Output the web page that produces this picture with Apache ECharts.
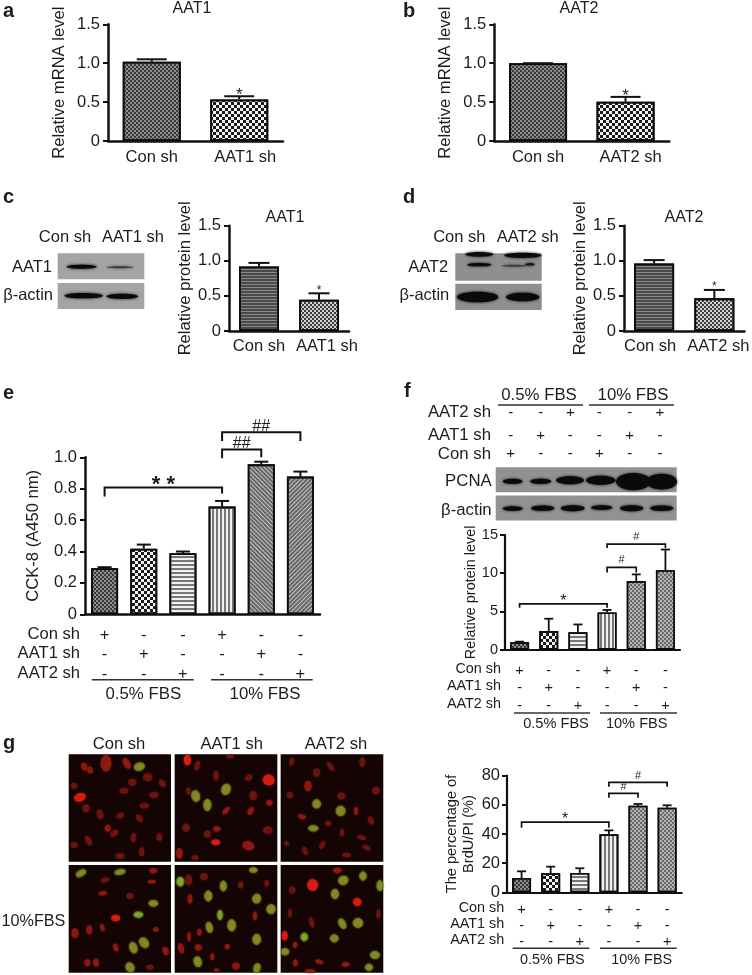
<!DOCTYPE html>
<html><head><meta charset="utf-8">
<style>html,body{margin:0;padding:0;background:#fff}#c{width:752px;height:975px;filter:blur(0.45px)}</style>
<script src="https://cdn.jsdelivr.net/npm/echarts@6/dist/echarts.min.js"></script>
</head><body><div id="c"></div>
<script>
// ---------- chart values ----------
const aCats = ['Con sh', 'AAT1 sh'];
const aValues = [1.02, 0.535];
const aErrors = [1.05, 0.575];
const aMarks = ['', '*'];

const bCats = ['Con sh', 'AAT2 sh'];
const bValues = [1.0, 0.505];
const bErrors = [1.0, 0.567];
const bMarks = ['', '*'];

const cCats = ['Con sh', 'AAT1 sh'];
const cValues = [0.92, 0.446];
const cErrors = [0.97, 0.537];
const cMarks = ['', '*'];

const dCats = ['Con sh', 'AAT2 sh'];
const dValues = [0.96, 0.465];
const dErrors = [1.01, 0.585];
const dMarks = ['', '*'];

const conSh = ['+', '-', '-', '+', '-', '-'];
const aat1Sh = ['-', '+', '-', '-', '+', '-'];
const aat2Sh = ['-', '-', '+', '-', '-', '+'];
const groupCats = ['a', 'b', 'c', 'd', 'e', 'f'];

const eValues = [0.293, 0.418, 0.389, 0.686, 0.955, 0.877];
const eErrors = [0.30, 0.444, 0.40, 0.722, 0.972, 0.909];
const eBrackets = [[0, 3, 0.807, 0.75, 0.77, '* *'], [3, 4, 1.05, 0.994, 1.0, '##'], [3, 5, 1.16, 1.104, 1.104, '##']];

const fValues = [0.96, 2.44, 2.27, 4.88, 8.98, 10.4];
const fErrors = [1.05, 4.05, 3.3, 5.2, 9.85, 13.1];
const fBrackets = [[0, 3, 6.0, 5.5, 5.5, '*'], [3, 4, 10.77, 10.1, 10.1, '#'], [3, 5, 13.8, 13.3, 13.3, '#']];

const gValues = [9.8, 13, 13.3, 39.8, 59.4, 58];
const gErrors = [14.4, 17.6, 16.5, 42.5, 60.6, 59.7];
const gBrackets = [[0, 3, 48.2, 44.3, 44.3, '*'], [3, 4, 67.9, 64.9, 64.9, '#'], [3, 5, 75.4, 72.5, 72.5, '#']];

// ---------- blot bands: [x, y, rx, ry, strength] in each blot's own field units ----------
const blotCBands = [[245, 245, 45, 6, 1], [360, 247, 40, 3, .55], [251, 332, 58, 8, 1], [367, 334, 48, 8, 1]];
const blotDBands = [[310, 208, 42, 7, 1], [440, 211, 56, 8, 1], [310, 239, 36, 5, 1], [415, 242, 38, 3, .5], [462, 238, 15, 4, .8], [305, 336, 62, 16, 1], [440, 336, 50, 13, 1]];
const blotFBands = [[308, 319, 30, 8, 1], [392, 319, 32, 8, 1], [480, 316, 42, 12, 1], [572, 316, 44, 14, 1], [670, 320, 52, 26, 1], [755, 320, 46, 24, 1],
  [308, 401, 30, 7, 1], [398, 400, 35, 8, 1], [488, 400, 36, 9, 1], [575, 398, 32, 7, 1], [665, 400, 35, 9, 1], [755, 400, 35, 8, 1]];

// ---------- micrograph nuclei: [x, y, rx, ry, angle, kind] ----------
const nucleiCon = [[318,115,18,28,0,'m'],[253,125,10,14,20,'m'],[270,135,10,12,20,'m'],[380,115,11,20,30,'m'],[418,125,17,12,15,'y'],[443,157,16,14,0,'r'],[397,172,14,12,0,'r'],[487,175,10,15,30,'r'],[222,182,11,10,0,'r'],[372,197,15,10,0,'r'],[240,217,20,14,20,'R'],[462,210,16,10,0,'r'],[258,250,12,14,0,'r'],[433,242,16,9,0,'r'],[300,268,11,17,20,'r'],[360,272,14,9,20,'r'],[418,280,9,15,40,'r'],[323,310,10,12,0,'m'],[343,325,15,10,40,'r'],[400,338,9,16,0,'r'],[478,336,10,14,0,'r'],[265,347,10,17,30,'r'],[222,360,12,10,0,'r'],[425,380,9,16,0,'r'],[360,393,15,10,0,'r']];
const nucleiAat1 = [[562,105,12,18,0,'R'],[592,122,9,17,-15,'r'],[648,152,9,17,0,'r'],[746,158,13,10,20,'r'],[806,165,20,18,-20,'R'],[565,198,8,12,0,'r'],[678,193,14,18,-20,'y'],[587,213,13,18,15,'y'],[622,240,12,19,0,'y'],[760,212,13,16,0,'r'],[808,233,11,10,0,'m'],[678,257,8,16,-40,'m'],[752,258,9,15,-30,'m'],[558,308,13,14,0,'r'],[650,312,13,9,0,'m'],[622,327,12,13,0,'r'],[803,316,16,13,0,'r'],[647,352,15,10,0,'R'],[745,362,20,15,-20,'m'],[538,385,11,18,0,'m'],[690,95,12,6,0,'r'],[585,398,12,8,0,'r']];
const nucleiAat2 = [[875,110,8,14,-20,'r'],[992,125,8,18,40,'r'],[1087,112,10,16,0,'r'],[950,143,12,14,0,'r'],[924,183,12,18,0,'m'],[870,210,11,11,0,'r'],[1024,213,14,12,0,'r'],[1128,197,13,12,0,'r'],[950,237,13,14,0,'y'],[1022,258,15,16,0,'y'],[906,275,14,8,-15,'m'],[1068,258,7,14,0,'m'],[985,295,10,10,0,'r'],[940,310,16,9,0,'y'],[1113,287,9,15,25,'r'],[1026,323,7,14,0,'r'],[967,360,8,15,-30,'r'],[1085,338,16,7,-15,'r'],[915,378,8,15,20,'r'],[1100,368,14,8,-30,'r'],[1040,390,15,8,0,'r'],[860,355,8,8,0,'r']];
const nucleiCon10 = [[243,445,17,9,30,'y'],[360,441,17,8,10,'y'],[460,437,13,9,0,'m'],[315,465,15,8,10,'r'],[455,470,14,6,0,'m'],[308,505,14,7,10,'m'],[390,513,12,10,0,'r'],[460,535,15,10,0,'y'],[415,569,15,9,0,'g'],[347,579,15,11,0,'R'],[225,625,12,17,0,'m'],[268,615,10,15,0,'m'],[307,608,7,13,20,'m'],[467,613,9,8,0,'m'],[347,667,8,14,20,'m'],[400,668,12,18,20,'y'],[432,653,13,18,40,'y'],[497,678,10,14,25,'m'],[262,713,10,12,0,'m'],[288,713,9,14,0,'m'],[390,727,13,16,30,'y'],[450,727,12,9,0,'r']];
const nucleiAat110 = [[760,435,13,8,0,'y'],[541,470,12,15,0,'g'],[566,465,12,18,0,'r'],[612,455,13,12,0,'r'],[670,483,10,17,0,'y'],[722,480,9,12,0,'r'],[800,475,8,12,0,'r'],[625,513,12,17,0,'y'],[770,521,13,15,-20,'y'],[570,522,8,16,0,'m'],[813,552,14,15,-20,'y'],[660,570,8,16,0,'g'],[765,573,7,15,0,'m'],[695,601,13,19,0,'y'],[628,607,10,17,15,'y'],[598,622,8,12,0,'m'],[567,635,6,16,0,'m'],[770,643,13,17,0,'y'],[595,667,12,11,0,'m'],[543,670,10,18,15,'m'],[682,665,9,9,0,'m'],[637,695,7,12,0,'m'],[593,710,12,17,15,'y'],[708,723,13,12,0,'m'],[771,729,10,15,-15,'y'],[650,735,10,5,0,'m']];
const nucleiAat210 = [[1012,436,14,10,0,'m'],[938,480,18,20,0,'R'],[1030,466,16,14,20,'y'],[1089,453,11,14,0,'y'],[1140,482,10,17,0,'y'],[1005,507,12,16,0,'y'],[877,495,12,12,0,'r'],[1072,531,14,14,0,'R'],[870,565,7,15,0,'r'],[1135,567,7,15,0,'r'],[1027,596,10,17,30,'y'],[1074,594,16,15,0,'y'],[935,592,8,18,15,'r'],[913,636,11,13,0,'g'],[1003,640,13,12,0,'y'],[854,632,10,16,0,'R'],[885,660,8,10,0,'m'],[855,680,13,11,0,'y'],[1125,690,15,12,0,'y'],[886,713,8,12,0,'m'],[958,710,14,7,-15,'m'],[1037,718,13,8,0,'m'],[1107,727,12,11,0,'y'],[930,738,17,6,0,'m']];

// ---------- styling ----------
const FONT = '"Liberation Sans", Arial, sans-serif';
const INK = '#1c1c1c';
const nucleusColor = {r: '#6a1410', m: '#8e1710', R: '#d61c10', y: '#8f8224', g: '#86a526'};
const patterns = {
  dense:  {fill: '#8c8c8c', decal: {color: '#3a3a3a', dashArrayX: [[2, 2], [0, 2, 2, 0]], dashArrayY: [2, 0]}},
  check:  {fill: '#f4f4f4', decal: {color: '#1a1a1a', dashArrayX: [[3, 3], [0, 3, 3, 0]], dashArrayY: [3, 0]}},
  fine:   {fill: '#d4d4d4', decal: {color: '#3c3c3c', dashArrayX: [[2, 2], [0, 2, 2, 0]], dashArrayY: [2, 0]}},
  gray:   {fill: '#b4b4b4', decal: {color: '#6a6a6a', dashArrayX: [[2, 2], [0, 2, 2, 0]], dashArrayY: [2, 0]}},
  hdark:  {fill: '#8a8a8a', decal: {color: '#4a4a4a', dashArrayX: [1, 0], dashArrayY: [2, 1]}},
  hline:  {fill: '#f0f0f0', decal: {color: '#777777', dashArrayX: [1, 0], dashArrayY: [2, 2]}},
  vline:  {fill: '#f0f0f0', decal: {color: '#777777', dashArrayX: [2, 2], dashArrayY: [1, 0]}},
  diagA:  {fill: '#c4c4c4', decal: {color: '#666666', dashArrayX: [1, 0], dashArrayY: [2, 1], rotation: Math.PI / 4}},
  diagB:  {fill: '#c4c4c4', decal: {color: '#666666', dashArrayX: [1, 0], dashArrayY: [2, 1], rotation: -Math.PI / 4}}
};
const sixPatterns = ['dense', 'check', 'hline', 'vline', 'diagA', 'diagB'];
const blotSixPatterns = ['dense', 'check', 'hline', 'vline', 'gray', 'gray'];

const grids = [], xAxes = [], yAxes = [], series = [], elements = [];

function txt(x, y, text, size, align, weight) {
  elements.push({type: 'text', silent: true, style: {x, y, text, fill: INK, align: align || 'center', verticalAlign: 'middle',
    font: (weight || 'normal') + ' ' + size + 'px ' + FONT}});
}
function rule(x1, x2, y, w) {
  elements.push({type: 'line', silent: true, shape: {x1, y1: y, x2, y2: y}, style: {stroke: '#333', lineWidth: w || 1.6}});
}

function barPanel(o) {
  const i = grids.length;
  grids.push({left: o.left, top: o.top, width: o.width, height: o.height, containLabel: false});
  xAxes.push({gridIndex: i, type: 'category',
    data: o.cats.map((c, k) => {
      const s = o.catShift ? o.catShift[k] : 0;
      if (!s) return c;
      return {value: c, textStyle: {padding: s > 0 ? [0, 0, 0, 2 * s] : [0, -2 * s, 0, 0]}};
    }),
    axisTick: {show: false}, axisLine: {lineStyle: {color: '#111', width: o.axisW}},
    axisLabel: {interval: 0, color: INK, fontFamily: FONT, fontSize: o.catSize, margin: o.catMargin, lineHeight: o.catLine,
      formatter: o.catFormat}});
  yAxes.push({gridIndex: i, type: 'value', min: 0, max: o.max, interval: o.interval,
    splitLine: {show: false},
    axisLine: {show: true, lineStyle: {color: '#111', width: o.axisW}},
    axisTick: {show: true, length: 5, lineStyle: {color: '#111', width: 2}},
    axisLabel: {color: INK, fontFamily: FONT, fontSize: o.tickSize, margin: o.tickMargin,
      formatter: v => v === 0 ? '0' : (o.interval < 1 ? v.toFixed(1) : String(v))},
    name: o.yName, nameLocation: 'middle', nameRotate: 90, nameGap: o.nameGap,
    nameTextStyle: {color: INK, fontFamily: FONT, fontSize: o.nameSize, lineHeight: o.nameLine}});
  series.push({type: 'bar', xAxisIndex: i, yAxisIndex: i, barWidth: o.barW, animation: false, silent: true,
    data: o.values.map((v, k) => {
      const p = patterns[o.patterns[k]];
      return {value: v, itemStyle: {color: p.fill, borderColor: '#0c0c0c', borderWidth: o.barBorder,
        decal: Object.assign({symbol: 'rect', symbolSize: 1}, p.decal)}};
    })});
  series.push({type: 'custom', xAxisIndex: i, yAxisIndex: i, animation: false, silent: true, z: 5,
    encode: {x: 0, y: 1},
    data: o.errors.map((e, k) => [k, e, o.values[k]]),
    renderItem(params, api) {
      const k = params.dataIndex;
      const top = api.coord([api.value(0), api.value(1)]);
      const base = api.coord([api.value(0), api.value(2)]);
      const style = {stroke: '#111', lineWidth: o.errW, fill: null};
      const kids = [
        {type: 'line', shape: {x1: top[0], y1: top[1], x2: base[0], y2: base[1]}, style},
        {type: 'line', shape: {x1: top[0] - o.capW / 2, y1: top[1], x2: top[0] + o.capW / 2, y2: top[1]}, style}
      ];
      if (o.marks && o.marks[k]) kids.push({type: 'text', style: {x: top[0], y: top[1] + o.markDy, text: o.marks[k], align: 'center', verticalAlign: 'middle', fill: INK, font: o.markSize + 'px ' + FONT}});
      return {type: 'group', children: kids};
    }});
  if (o.brackets) series.push({type: 'custom', xAxisIndex: i, yAxisIndex: i, animation: false, silent: true, z: 6,
    encode: {x: 0, y: 2},
    data: o.brackets.map(b => b.slice(0, 5)),
    renderItem(params, api) {
      const a = api.value(0), b = api.value(1), lv = api.value(2);
      const p0 = api.coord([a, lv]), p1 = api.coord([b, lv]);
      const d0 = api.coord([a, api.value(3)]), d1 = api.coord([b, api.value(4)]);
      const lab = o.brackets[params.dataIndex][5];
      const big = lab.indexOf('*') >= 0;
      return {type: 'group', children: [
        {type: 'polyline', shape: {points: [d0, p0, p1, d1]}, style: {stroke: '#111', lineWidth: o.bracketW, fill: null}},
        {type: 'text', style: {x: (p0[0] + p1[0]) / 2, y: p0[1] + (big ? o.starDy : o.hashDy), text: lab, align: 'center', verticalAlign: 'middle', fill: INK,
          font: (big ? o.starWeight || 'normal' : 'normal') + ' ' + (big ? o.starSize : o.hashSize) + 'px ' + FONT}}
      ]};
    }});
}

function fieldGrid(left, top, width, height, xMin, xMax, yMin, yMax) {
  const i = grids.length;
  grids.push({left, top, width, height});
  xAxes.push({gridIndex: i, type: 'value', min: xMin, max: xMax, show: false});
  yAxes.push({gridIndex: i, type: 'value', min: yMin, max: yMax, inverse: true, show: false});
  return i;
}
function rectSeries(i, rects, color) {
  series.push({type: 'custom', xAxisIndex: i, yAxisIndex: i, animation: false, silent: true, z: 1, encode: {x: 0, y: 1}, data: rects,
    renderItem(p, api) {
      const a = api.coord([api.value(0), api.value(1)]), b = api.coord([api.value(2), api.value(3)]);
      return {type: 'rect', shape: {x: a[0], y: a[1], width: b[0] - a[0], height: b[1] - a[1]}, style: {fill: color}};
    }});
}
function blotSeries(i, bands) {
  series.push({type: 'custom', xAxisIndex: i, yAxisIndex: i, animation: false, silent: true, z: 2, encode: {x: 0, y: 1}, data: bands,
    renderItem(p, api) {
      const c = api.coord([api.value(0), api.value(1)]), s = api.size([api.value(2), api.value(3)]);
      return {type: 'ellipse', shape: {cx: c[0], cy: c[1], rx: s[0], ry: s[1]},
        style: {fill: '#0a0a0a', opacity: api.value(4), shadowBlur: 3, shadowColor: '#111'}};
    }});
}

// ---------- panels a-d ----------
const small = {axisW: 2.5, catSize: 16.5, tickSize: 16.5, nameSize: 16.6, catMargin: 8, tickMargin: 8, errW: 2, markSize: 17, max: 1.5, interval: 0.5, barBorder: 1.8};
barPanel(Object.assign({}, small, {left: 108, top: 24.3, width: 175, height: 116.7, cats: aCats, catShift: [0, 6], values: aValues, errors: aErrors, marks: aMarks,
  patterns: ['dense', 'check'], yName: 'Relative mRNA level', nameGap: 40, barW: 58, capW: 30, markDy: -1}));
barPanel(Object.assign({}, small, {left: 494.3, top: 24.3, width: 175, height: 116.7, cats: bCats, catShift: [0, 5], values: bValues, errors: bErrors, marks: bMarks,
  patterns: ['dense', 'check'], yName: 'Relative mRNA level', nameGap: 40, barW: 58, capW: 30, markDy: -1}));
barPanel(Object.assign({}, small, {left: 229, top: 225.7, width: 120, height: 105.3, cats: cCats, catShift: [0, 8], values: cValues, errors: cErrors, marks: cMarks,
  patterns: ['hdark', 'fine'], yName: 'Relative protein level', nameGap: 31, barW: 40, capW: 21, markDy: -3, markSize: 12, catMargin: 7}));
barPanel(Object.assign({}, small, {left: 624, top: 225.7, width: 122, height: 105.3, cats: dCats, catShift: [-4, 4], values: dValues, errors: dErrors, marks: dMarks,
  patterns: ['hdark', 'fine'], yName: 'Relative protein level', nameGap: 33, barW: 40, capW: 21, markDy: -3, markSize: 12, catMargin: 7}));

// ---------- panels e, f, g(right) ----------
const signs = (v, k) => conSh[k] + '\n' + aat1Sh[k] + '\n' + aat2Sh[k];
barPanel({left: 85, top: 457.3, width: 235, height: 157, cats: groupCats, values: eValues, errors: eErrors, patterns: sixPatterns, brackets: eBrackets,
  max: 1, interval: 0.2, axisW: 2.5, catSize: 16.5, catMargin: 11, catLine: 19.5, catFormat: signs, tickSize: 16.5, tickMargin: 8,
  yName: 'CCK-8 (A450 nm)', nameSize: 16.6, nameGap: 43, barW: 27, barBorder: 1.8, errW: 2, capW: 14, bracketW: 2,
  starSize: 22, starWeight: 'bold', starDy: -3, hashSize: 16, hashDy: -6});
barPanel({left: 505, top: 535, width: 175, height: 114.7, cats: groupCats, values: fValues, errors: fErrors, patterns: blotSixPatterns, brackets: fBrackets,
  max: 15, interval: 5, axisW: 2.2, catSize: 14.5, catMargin: 12, catLine: 17.7, catFormat: signs, tickSize: 14.5, tickMargin: 7,
  yName: 'Relative protein level', nameSize: 14.4, nameGap: 21, barW: 19, barBorder: 1.6, errW: 1.8, capW: 9, bracketW: 1.7,
  starSize: 16, starDy: -2, hashSize: 11, hashDy: -7});
barPanel({left: 507, top: 775.7, width: 174.7, height: 116.6, cats: groupCats, values: gValues, errors: gErrors, patterns: blotSixPatterns, brackets: gBrackets,
  max: 80, interval: 20, axisW: 2.2, catSize: 14.5, catMargin: 10, catLine: 15.7, catFormat: signs, tickSize: 16.5, tickMargin: 7,
  yName: 'The percentage of\nBrdU/PI (%)', nameSize: 14.6, nameLine: 17, nameGap: 30, barW: 19, barBorder: 1.6, errW: 1.8, capW: 9, bracketW: 1.7,
  starSize: 16, starDy: -2, hashSize: 11, hashDy: -6});

// ---------- western blots ----------
const gc = fieldGrid(57.7, 253.3, 86.6, 55.7, 173, 433, 205, 372);
rectSeries(gc, [[173, 205, 433, 283], [173, 294, 433, 372]], '#a4a4a4');
blotSeries(gc, blotCBands);
const gd = fieldGrid(455.3, 253.3, 86.4, 56.7, 238, 497, 205, 375);
rectSeries(gd, [[238, 205, 497, 287], [238, 296, 497, 375]], '#8f8f8f');
blotSeries(gd, blotDBands);
const gf = fieldGrid(495.7, 467.3, 181, 53.3, 257, 800, 277, 437);
rectSeries(gf, [[257, 277, 800, 352], [257, 362, 800, 437]], '#929292');
blotSeries(gf, blotFBands);

// ---------- micrographs ----------
const gm = fieldGrid(68.7, 754.3, 314.6, 218.4, 206, 1150, 88, 743);
rectSeries(gm, [[206,88,513,410],[524,88,832,410],[842,88,1150,410],[206,420,513,743],[524,420,832,743],[842,420,1150,743]], '#140504');
const allNuclei = [].concat(nucleiCon, nucleiAat1, nucleiAat2, nucleiCon10, nucleiAat110, nucleiAat210);
series.push({type: 'custom', xAxisIndex: gm, yAxisIndex: gm, animation: false, silent: true, z: 2, encode: {x: 0, y: 1},
  data: allNuclei.map(n => n.slice(0, 5)),
  renderItem(p, api) {
    const c = api.coord([api.value(0), api.value(1)]), s = api.size([api.value(2), api.value(3)]);
    const kind = allNuclei[p.dataIndex][5];
    const green = kind === 'y' || kind === 'g';
    return {type: 'ellipse', x: c[0], y: c[1], rotation: api.value(4) * Math.PI / 180,
      shape: {cx: 0, cy: 0, rx: s[0] * 0.88, ry: s[1] * 0.88},
      style: {fill: nucleusColor[kind], stroke: green ? '#4f8a1c' : null, lineWidth: green ? 1 : 0, shadowBlur: 2, shadowColor: nucleusColor[kind]}};
  }});

// ---------- annotation text ----------
txt(3, 11, 'a', 20, 'left', 'bold');
txt(403, 11, 'b', 20, 'left', 'bold');
txt(3, 197, 'c', 20, 'left', 'bold');
txt(403, 197, 'd', 20, 'left', 'bold');
txt(3, 393, 'e', 20, 'left', 'bold');
txt(404, 391, 'f', 20, 'left', 'bold');
txt(3, 743, 'g', 20, 'left', 'bold');

txt(192, 9, 'AAT1', 16);
txt(579, 9, 'AAT2', 16);
txt(285, 217.7, 'AAT1', 16);
txt(684, 217.7, 'AAT2', 16);

txt(65, 237, 'Con sh', 16.5);
txt(133, 237, 'AAT1 sh', 16.5);
txt(52, 267, 'AAT1', 16.5, 'right');
txt(53, 295.7, 'β-actin', 16.5, 'right');
txt(459.3, 237.3, 'Con sh', 16.5);
txt(527.7, 237.3, 'AAT2 sh', 16.5);
txt(448.3, 267.3, 'AAT2', 16.5, 'right');
txt(449.3, 295.7, 'β-actin', 16.5, 'right');

// e table
txt(80, 634, 'Con sh', 16.6, 'right');
txt(80, 653.5, 'AAT1 sh', 16.6, 'right');
txt(80, 673, 'AAT2 sh', 16.6, 'right');
rule(91.7, 193.7, 679.7); rule(211, 312.7, 679.7);
txt(143.3, 694, '0.5% FBS', 16.8);
txt(265, 694, '10% FBS', 16.8);

// f top table
txt(539, 395.7, '0.5% FBS', 16.8);
txt(633, 395.7, '10% FBS', 16.8);
rule(498, 583, 405); rule(589, 674, 405);
const fCols = [510.7, 540.7, 570.3, 599.3, 629.7, 660];
[[aat2Sh, 412.7, 'AAT2 sh'], [aat1Sh, 435.7, 'AAT1 sh'], [conSh, 454, 'Con sh']].forEach(([row, y, name]) => {
  txt(491, y, name, 16.8, 'right');
  row.forEach((s, k) => txt(fCols[k], y, s, 15));
});
txt(491.7, 481, 'PCNA', 16.8, 'right');
txt(491.7, 510, 'β-actin', 16.8, 'right');

// f bottom table
txt(501, 668.7, 'Con sh', 14.4, 'right');
txt(501, 686.3, 'AAT1 sh', 14.4, 'right');
txt(501, 704.3, 'AAT2 sh', 14.4, 'right');
rule(514, 590, 713); rule(600, 677, 713);
txt(556, 724, '0.5% FBS', 14.6);
txt(636.7, 724, '10% FBS', 14.6);

// g left
txt(119, 744, 'Con sh', 16.6);
txt(231.7, 744, 'AAT1 sh', 16.6);
txt(336, 744, 'AAT2 sh', 16.6);
txt(1.5, 921.7, '10%FBS', 16.2, 'left');

// g right table
txt(504.3, 908.3, 'Con sh', 14.4, 'right');
txt(504.3, 924.3, 'AAT1 sh', 14.4, 'right');
txt(504.3, 939.7, 'AAT2 sh', 14.4, 'right');
rule(512.7, 589.3, 948.3); rule(600, 676.7, 948.3);
txt(552.3, 960, '0.5% FBS', 14.4);
txt(641.7, 960, '10% FBS', 14.4);

const chart = echarts.init(document.getElementById('c'), null, {renderer: 'canvas'});
chart.setOption({animation: false, backgroundColor: '#fff', grid: grids, xAxis: xAxes, yAxis: yAxes, series,
  graphic: {elements}});
</script></body></html>
